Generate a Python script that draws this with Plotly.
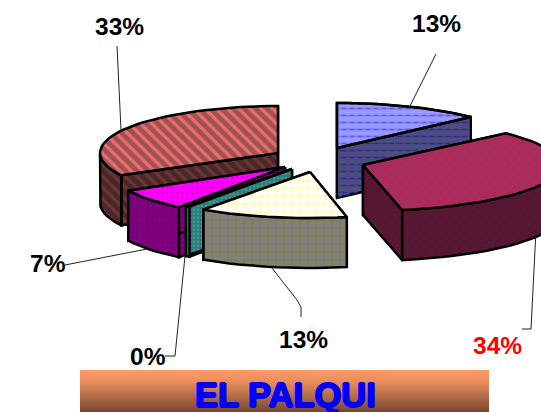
import math
import plotly.graph_objects as go

# data
labels = ["13%", "34%", "13%", "0%", "7%", "33%"]
values = [13, 34, 13, 0.4, 7, 33]
title = "EL PALQUI"

# geometry of the exploded 3D pie, in page pixels
W, H = 541, 412
DEPTH = 50
apex = [(337, 148), (363, 165), (310, 172), (292, 169), (285, 167), (278, 153)]
radius_x = [184, 197, 185, 178, 178, 178]
radius_y = [45, 46, 46, 46, 50, 47]

styles = [
    dict(top=("#9999FF", "#1A1AEE", "-", 7, .25), side=("#4D4D80", "#0A0AA0", "-", 7, .25), dash=True),
    dict(top=("#993366", "#DC143C", "x", 7, .5), side=("#4D1933", "#701030", "x", 7, .5)),
    dict(top=("#FFFFFF", "#FFFF33", "+", 8, .25), side=("#808080", "#808000", "+", 8, .25)),
    dict(top=("#2A7A7A", "#66AAAA", ".", 4, .4), side=("#2A7A7A", "#66AAAA", ".", 4, .4)),
    dict(top=("#FF00FF", "#800080", ".", 5, .12), side=("#800080", "#400040", ".", 5, .12)),
    dict(top=("#EE6C6C", "#4A3838", "\\", 8, .6), side=("#6E3434", "#221A1A", "\\", 8, .6)),
]
draw_order = [5, 4, 3, 2, 0, 1]

label_pos = [(119, 26), (497, 345), (303, 339), (148, 356), (48, 263), (436, 23)]
label_pos = [(436, 23), (497, 345), (303, 339), (148, 356), (48, 263), (119, 26)]
label_col = ["black", "red", "black", "black", "black", "black"]
leaders = [
    [(436, 54), (410, 106)],
    [(536, 230), (531, 329), (522, 329)],
    [(272, 268), (297, 300), (301, 307), (301, 317)],
    [(185, 256), (175, 356), (165, 356)],
    [(147, 249), (65, 265)],
    [(117, 46), (121, 130)],
]

fig = go.Figure()


def poly(pts, st, lw=2.5):
    xs = [p[0] for p in pts] + [pts[0][0]]
    ys = [p[1] for p in pts] + [pts[0][1]]
    bg, fg, shape, size, sol = st
    fig.add_trace(go.Scatter(
        x=xs, y=ys, mode="lines", fill="toself", fillcolor=bg,
        fillpattern=dict(shape=shape, bgcolor=bg, fgcolor=fg, size=size, solidity=sol),
        line=dict(color="black", width=lw), hoverinfo="skip", showlegend=False))


def overlay_breaks(pts, bg):
    xs = [p[0] for p in pts] + [pts[0][0]]
    ys = [p[1] for p in pts] + [pts[0][1]]
    fig.add_trace(go.Scatter(
        x=xs, y=ys, mode="none", fill="toself", fillcolor="rgba(0,0,0,0)",
        fillpattern=dict(shape="|", bgcolor="rgba(0,0,0,0)", fgcolor=bg, size=8, solidity=.5),
        hoverinfo="skip", showlegend=False))


total = sum(values)
bounds = [0]
for v in values:
    bounds.append(bounds[-1] + v / total * 360)

for i in draw_order:
    a0, a1 = bounds[i], bounds[i + 1]
    ax, ay = apex[i]
    rx, ry = radius_x[i], radius_y[i]
    n = max(2, int((a1 - a0) / 3))
    angles = [a0 + (a1 - a0) * k / n for k in range(n + 1)]
    rim = [(ax + rx * math.sin(math.radians(t)), ay - ry * math.cos(math.radians(t))) for t in angles]
    down = lambda p: (p[0], p[1] + DEPTH)
    st = styles[i]
    # radial cut faces
    for edge in (rim[0], rim[-1]):
        face = [(ax, ay), edge, down(edge), (ax, ay + DEPTH)]
        poly(face, st["side"])
        if st.get("dash"):
            overlay_breaks(face, st["side"][0])
    # outer wall, only the part facing the viewer
    front = [p for p, t in zip(rim, angles) if 90 <= t <= 270]
    if len(front) > 1:
        poly(front + [down(p) for p in reversed(front)], st["side"])
    # top
    top = [(ax, ay)] + rim
    poly(top, st["top"])
    if st.get("dash"):
        overlay_breaks(top, st["top"][0])
        fig.add_trace(go.Scatter(x=[p[0] for p in top + top[:1]], y=[p[1] for p in top + top[:1]],
                                 mode="lines", line=dict(color="black", width=2.5),
                                 hoverinfo="skip", showlegend=False))

for seg in leaders:
    fig.add_trace(go.Scatter(x=[p[0] for p in seg], y=[p[1] for p in seg], mode="lines",
                             line=dict(color="#222222", width=1), hoverinfo="skip", showlegend=False))

# title band
fig.add_trace(go.Scatter(
    x=[80, 489, 489, 80, 80], y=[370, 370, 412, 412, 370], mode="none", fill="toself",
    fillgradient=dict(type="vertical", start=370, stop=412,
                      colorscale=[[0, "#FF9966"], [0.3, "#E88C5D"], [1, "#754730"]]),
    hoverinfo="skip", showlegend=False))

annotations = [
    dict(x=p[0], y=p[1], text=f"<b>{t}</b>", showarrow=False, xanchor="center", yanchor="middle",
         font=dict(family="Liberation Sans", size=24.5, color=c))
    for t, p, c in zip(labels, label_pos, label_col)
]
annotations.append(dict(
    x=285, y=395, text=f"<b>{title}</b>", showarrow=False, xanchor="center", yanchor="middle",
    font=dict(family="Liberation Sans", size=34.5, color="#0000FF",
              shadow="1px 0 0 #0000FF, -1px 0 0 #0000FF, 0 1px 0 #0000FF, 0 -1px 0 #0000FF")))

fig.update_layout(
    width=W, height=H, margin=dict(l=0, r=0, t=0, b=0),
    paper_bgcolor="white", plot_bgcolor="white", showlegend=False,
    xaxis=dict(range=[0, W], visible=False, fixedrange=True),
    yaxis=dict(range=[H, 0], visible=False, fixedrange=True),
    annotations=annotations,
)
fig.write_html("out.html", config=dict(displayModeBar=False),
               post_script="document.body.style.margin='0';")
